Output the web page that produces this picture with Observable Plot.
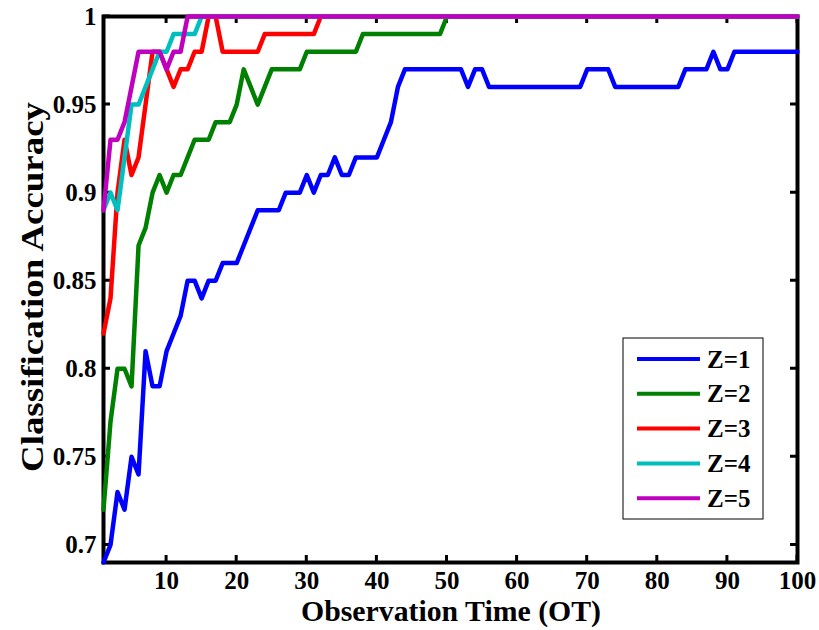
<!DOCTYPE html>
<html><head><meta charset="utf-8">
<script src="https://cdn.jsdelivr.net/npm/d3@7"></script>
<script src="https://cdn.jsdelivr.net/npm/@observablehq/plot@0.6"></script>
<style>
body{margin:0;background:#fff;}
#wrap{position:relative;width:819px;height:630px;}
svg text{font-family:"Liberation Serif","Times New Roman",serif;font-weight:bold;fill:#000;}
</style></head><body><div id="wrap"></div>
<script>
const names = ["Z=1","Z=2","Z=3","Z=4","Z=5"];
const colors = ["#0000FF","#008000","#FF0000","#00BFBF","#BF00BF"];
const xTicks = [10,20,30,40,50,60,70,80,90,100];
const yTicks = [0.7,0.75,0.8,0.85,0.9,0.95,1];
const xDomain = [1, 100];
const yDomain = [0.69, 1];
const xTitle = "Observation Time (OT)";
const yTitle = "Classification Accuracy";

const z1 = [0.69,0.70,0.73,0.72,0.75,0.74,0.81,0.79,0.79,0.81,
            0.82,0.83,0.85,0.85,0.84,0.85,0.85,0.86,0.86,0.86,
            0.87,0.88,0.89,0.89,0.89,0.89,0.90,0.90,0.90,0.91,
            0.90,0.91,0.91,0.92,0.91,0.91,0.92,0.92,0.92,0.92,
            0.93,0.94,0.96,0.97,0.97,0.97,0.97,0.97,0.97,0.97,
            0.97,0.97,0.96,0.97,0.97,0.96,0.96,0.96,0.96,0.96,
            0.96,0.96,0.96,0.96,0.96,0.96,0.96,0.96,0.96,0.97,
            0.97,0.97,0.97,0.96,0.96,0.96,0.96,0.96,0.96,0.96,
            0.96,0.96,0.96,0.97,0.97,0.97,0.97,0.98,0.97,0.97,
            0.98,0.98,0.98,0.98,0.98,0.98,0.98,0.98,0.98,0.98];
const z2 = [0.72,0.77,0.80,0.80,0.79,0.87,0.88,0.90,0.91,0.90,
            0.91,0.91,0.92,0.93,0.93,0.93,0.94,0.94,0.94,0.95,
            0.97,0.96,0.95,0.96,0.97,0.97,0.97,0.97,0.97,0.98,
            0.98,0.98,0.98,0.98,0.98,0.98,0.98,0.99,0.99,0.99,
            0.99,0.99,0.99,0.99,0.99,0.99,0.99,0.99,0.99,1,
            1,1,1,1,1,1,1,1,1,1,
            1,1,1,1,1,1,1,1,1,1,
            1,1,1,1,1,1,1,1,1,1,
            1,1,1,1,1,1,1,1,1,1,
            1,1,1,1,1,1,1,1,1,1];
const z3 = [0.82,0.84,0.90,0.93,0.91,0.92,0.95,0.98,0.98,0.97,
            0.96,0.97,0.97,0.98,0.98,1,1,0.98,0.98,0.98,
            0.98,0.98,0.98,0.99,0.99,0.99,0.99,0.99,0.99,0.99,
            0.99,1,1,1,1,1,1,1,1,1,
            1,1,1,1,1,1,1,1,1,1,
            1,1,1,1,1,1,1,1,1,1,
            1,1,1,1,1,1,1,1,1,1,
            1,1,1,1,1,1,1,1,1,1,
            1,1,1,1,1,1,1,1,1,1,
            1,1,1,1,1,1,1,1,1,1];
const z4 = [0.89,0.90,0.89,0.92,0.95,0.95,0.96,0.97,0.98,0.98,
            0.99,0.99,0.99,0.99,1,1,1,1,1,1,
            1,1,1,1,1,1,1,1,1,1,
            1,1,1,1,1,1,1,1,1,1,
            1,1,1,1,1,1,1,1,1,1,
            1,1,1,1,1,1,1,1,1,1,
            1,1,1,1,1,1,1,1,1,1,
            1,1,1,1,1,1,1,1,1,1,
            1,1,1,1,1,1,1,1,1,1,
            1,1,1,1,1,1,1,1,1,1];
const z5 = [0.89,0.93,0.93,0.94,0.96,0.98,0.98,0.98,0.98,0.97,
            0.98,0.98,1,1,1,1,1,1,1,1,
            1,1,1,1,1,1,1,1,1,1,
            1,1,1,1,1,1,1,1,1,1,
            1,1,1,1,1,1,1,1,1,1,
            1,1,1,1,1,1,1,1,1,1,
            1,1,1,1,1,1,1,1,1,1,
            1,1,1,1,1,1,1,1,1,1,
            1,1,1,1,1,1,1,1,1,1,
            1,1,1,1,1,1,1,1,1,1];
const series = [z1,z2,z3,z4,z5];
const data = series.flatMap((vals, i) => vals.map((v, j) => ({t: j + 1, v, s: names[i]})));

const yFmt = d => String(+d.toFixed(2));

const chart = Plot.plot({
  width: 819, height: 630,
  marginLeft: 103, marginRight: 22, marginTop: 16, marginBottom: 68,
  x: {domain: xDomain},
  y: {domain: yDomain},
  color: {domain: names, range: colors},
  style: {fontFamily: '"Liberation Serif", serif', fontWeight: "bold", fontSize: "25px", color: "black", background: "white"},
  marks: [
    Plot.axisX(xTicks, {anchor: "bottom", tickSize: 0, tickPadding: 9, tickFormat: d => String(d), label: null}),
    Plot.axisY(yTicks, {anchor: "left", tickSize: 0, tickPadding: 7, tickFormat: yFmt, label: null}),
    Plot.frame({stroke: "black", strokeWidth: 4}),
    Plot.line(data, {x: "t", y: "v", z: "s", stroke: "s", strokeWidth: 4.5})
  ]
});
document.getElementById("wrap").appendChild(chart);

const svg = d3.select(chart);
const xs = chart.scale("x"), ys = chart.scale("y");
const X0 = xs.apply(xDomain[0]), X1 = xs.apply(xDomain[1]);
const Y0 = ys.apply(yDomain[0]), Y1 = ys.apply(yDomain[1]);
const tk = 7;
// inward tick marks on all four sides, placed below the lines
const tg = svg.insert("g", 'g[aria-label="line"]').attr("stroke", "#000").attr("stroke-width", 3).attr("fill", "none");
const path = [];
xTicks.forEach(v => {
  const px = xs.apply(v);
  path.push(`M${px},${Y0}V${Y0 - tk}`, `M${px},${Y1}V${Y1 + tk}`);
});
yTicks.forEach(v => {
  const py = ys.apply(v);
  path.push(`M${X0},${py}H${X0 + tk}`, `M${X1},${py}H${X1 - tk}`);
});
tg.append("path").attr("d", path.join(""));

svg.append("text").text(xTitle)
  .attr("x", 451).attr("y", 621).attr("text-anchor", "middle")
  .attr("font-size", 29).attr("textLength", 300).attr("lengthAdjust", "spacingAndGlyphs");
svg.append("text").text(yTitle)
  .attr("transform", "translate(43,287) rotate(-90)").attr("text-anchor", "middle")
  .attr("font-size", 32).attr("textLength", 370).attr("lengthAdjust", "spacingAndGlyphs");

// legend
const lg = svg.append("g").attr("transform", "translate(623,338)");
lg.append("rect").attr("width", 140).attr("height", 181).attr("fill", "white").attr("stroke", "black").attr("stroke-width", 1);
names.forEach((n, i) => {
  const yy = 21 + i * 34.8;
  lg.append("line").attr("x1", 14).attr("x2", 77).attr("y1", yy).attr("y2", yy)
    .attr("stroke", colors[i]).attr("stroke-width", 4);
  lg.append("text").text(n).attr("x", 84).attr("y", yy + 8.5)
    .attr("text-anchor", "start").attr("font-size", 25);
});
</script></body></html>
